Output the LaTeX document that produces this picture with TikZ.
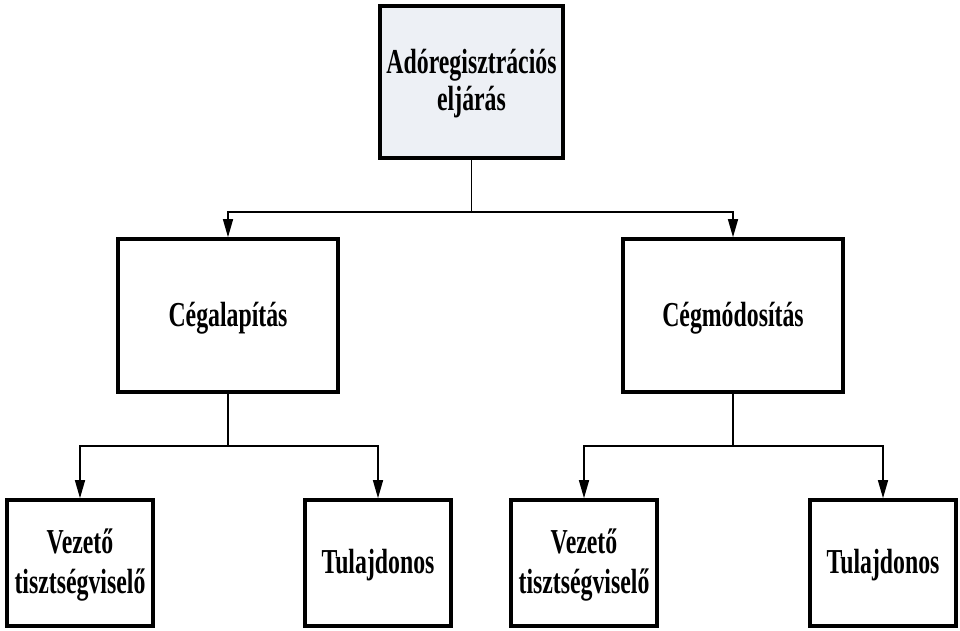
\documentclass[tikz,border=0pt]{standalone}
\usepackage{fontspec}
\newfontfamily\diagfont[FakeStretch=0.68]{Liberation Serif}
\usetikzlibrary{arrows.meta}
\definecolor{topfill}{RGB}{237,240,245}
\newcommand{\tstr}{\rule{0pt}{35pt}}
\newcommand{\bstr}{\rule[-14pt]{0pt}{14pt}}
\begin{document}
\begin{tikzpicture}[x=1pt,y=-1pt,
  box/.style={draw=black, line width=3.6pt, rectangle, align=center,
    font=\diagfont\bfseries\fontsize{35}{37}\selectfont, inner sep=0pt},
  topbox/.style={box, fill=topfill, minimum width=183pt, minimum height=152pt},
  midbox/.style={box, fill=white, minimum width=220pt, minimum height=153pt},
  lowbox/.style={box, fill=white, minimum width=146pt, minimum height=126pt},
  conn/.style={draw=black, line width=1.4pt},
  arr/.style={conn, -{Triangle[length=18pt,width=10pt]}}]
\useasboundingbox (0,0) rectangle (960,631);
\node[topbox] (top) at (471.5,82) {\tstr Adóregisztrációs\\eljárás\bstr};
\node[midbox] (ml) at (228,315.5) {\tstr Cégalapítás\bstr};
\node[midbox] (mr) at (733,315.5) {\tstr Cégmódosítás\bstr};
\node[lowbox] (b1) at (80,563) {\tstr Vezető\\[3pt]tisztségviselő\bstr};
\node[lowbox] (b2) at (378,563) {\tstr Tulajdonos\bstr};
\node[lowbox] (b3) at (584,563) {\tstr Vezető\\[3pt]tisztségviselő\bstr};
\node[lowbox] (b4) at (883,563) {\tstr Tulajdonos\bstr};
\coordinate (j0) at (471.5,212);
\coordinate (j1) at (228,446);
\coordinate (j2) at (733,446);
\draw[conn] (top.south) -- (j0);
\draw[arr] (j0) -| (ml.north);
\draw[arr] (j0) -| (mr.north);
\draw[conn] (ml.south) -- (j1);
\draw[arr] (j1) -| (b1.north);
\draw[arr] (j1) -| (b2.north);
\draw[conn] (mr.south) -- (j2);
\draw[arr] (j2) -| (b3.north);
\draw[arr] (j2) -| (b4.north);
\end{tikzpicture}
\end{document}
